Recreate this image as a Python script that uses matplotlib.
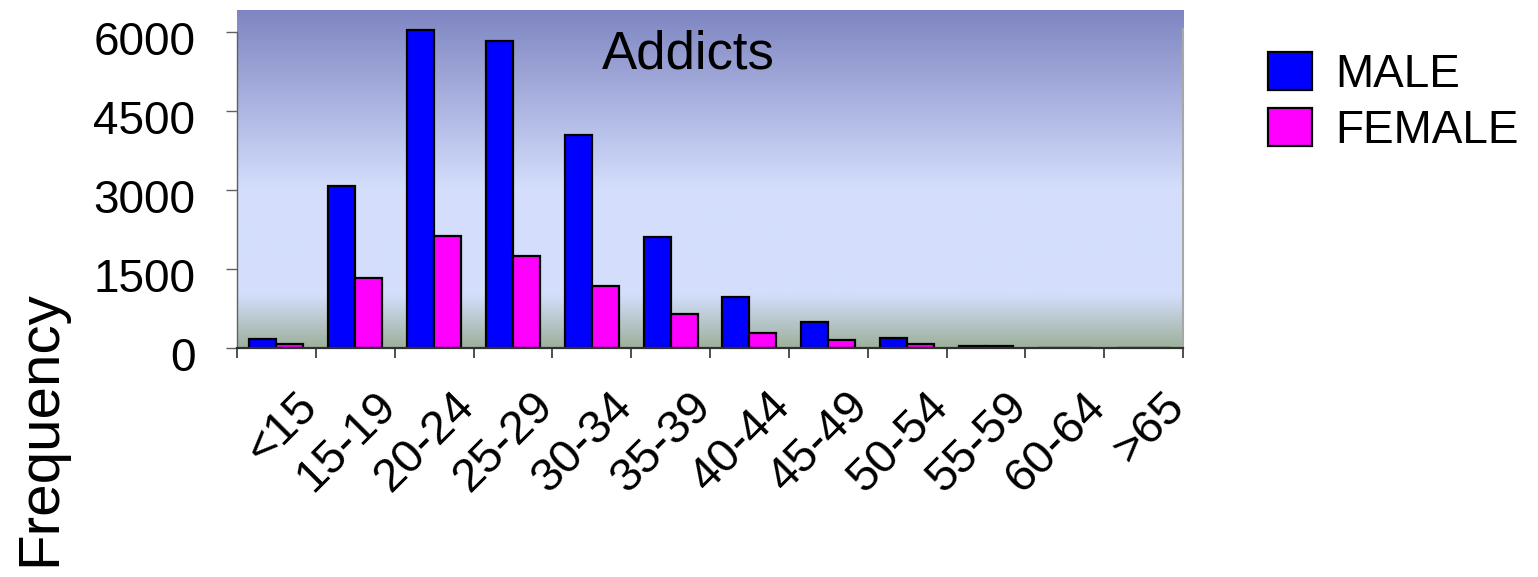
import numpy as np
import matplotlib
matplotlib.use("Agg")
import matplotlib.pyplot as plt
from matplotlib.colors import LinearSegmentedColormap
from matplotlib.transforms import ScaledTranslation

plt.rcParams["font.family"] = ["Liberation Sans", "DejaVu Sans"]

# age groups and counts per sex
age_groups = ["<15", "15-19", "20-24", "25-29", "30-34", "35-39",
              "40-44", "45-49", "50-54", "55-59", "60-64", ">65"]
male = [180, 3080, 6040, 5830, 4050, 2100, 960, 500, 185, 40, 0, 0]
female = [70, 1335, 2130, 1750, 1185, 640, 290, 150, 75, 30, 0, 0]
yticks = [0, 1500, 3000, 4500, 6000]

fig = plt.figure(figsize=(15.38, 5.77), dpi=100)
ax = fig.add_axes([0.1541, 0.3969, 0.6151, 0.5858])

x = np.arange(len(age_groups))
w = 0.343
ax.set_xlim(-0.5, len(age_groups) - 0.5)
ax.set_ylim(0, 6418)

# vertical background gradient: grey-green bottom, pale blue middle, slate top
bg = LinearSegmentedColormap.from_list(
    "bg", [(0.0, "#9db19c"), (0.157, "#d4defc"), (0.467, "#d4defc"), (1.0, "#7e85c2")])
grad = np.linspace(0, 1, 400).reshape(-1, 1)
ax.imshow(grad, cmap=bg, aspect="auto", origin="lower",
          extent=[0, 1, 0, 1], transform=ax.transAxes, zorder=0)

ax.bar(x - w / 2, male, w, color="#0000ff", edgecolor="black", linewidth=1.6,
       label="MALE", zorder=2)
ax.bar(x + w / 2, female, w, color="#ff00ff", edgecolor="black", linewidth=1.6,
       label="FEMALE", zorder=2)

ax.text(0.477, 0.828, "Addicts", transform=ax.transAxes, ha="center",
        va="baseline", fontsize=38, zorder=3)

# spines
ax.spines["top"].set_visible(False)
ax.spines["left"].set_bounds(0, 6000)
ax.spines["left"].set_color("#606060")
ax.spines["left"].set_linewidth(1.0)
ax.spines["right"].set_bounds(0, 6060)
ax.spines["right"].set_color("#a8a8a8")
ax.spines["right"].set_linewidth(1.5)
ax.spines["bottom"].set_color("#303030")
ax.spines["bottom"].set_linewidth(1.6)
for sp in ax.spines.values():
    sp.set_zorder(4)

# y axis
ax.set_yticks(yticks)
ax.set_yticklabels([str(v) for v in yticks])
ax.tick_params(axis="y", direction="out", length=8, width=1, color="#606060",
               labelsize=33, pad=22)
for lab in ax.get_yticklabels():
    lab.set_transform(lab.get_transform() + ScaledTranslation(0, -0.06, fig.dpi_scale_trans))

# x axis: ticks on group boundaries, labels under group centres
ax.set_xticks(np.arange(len(age_groups) + 1) - 0.5)
ax.set_xticklabels([])
ax.tick_params(axis="x", which="major", direction="out", length=7, width=1.2,
               color="#303030")
ax.set_xticks(x, minor=True)
ax.set_xticklabels(age_groups, minor=True, rotation=45, ha="right",
                   va="center", rotation_mode="anchor", fontsize=34)
ax.tick_params(axis="x", which="minor", length=0, pad=37)
for lab in ax.get_xticklabels(minor=True):
    lab.set_transform(lab.get_transform() + ScaledTranslation(0.34, 0, fig.dpi_scale_trans))

fig.text(40 / 1538, 1 - 428 / 577, "Frequency", rotation=90, ha="center",
         va="center", fontsize=42)

ax.legend(loc="upper left", bbox_to_anchor=(1268 / 1538, 1 - 52 / 577),
          bbox_transform=fig.transFigure, frameon=False, fontsize=33,
          handlelength=0.95, handleheight=0.9, handletextpad=0.52,
          labelspacing=0.25, borderpad=0, borderaxespad=0)

fig.savefig("out.png", dpi=100)
